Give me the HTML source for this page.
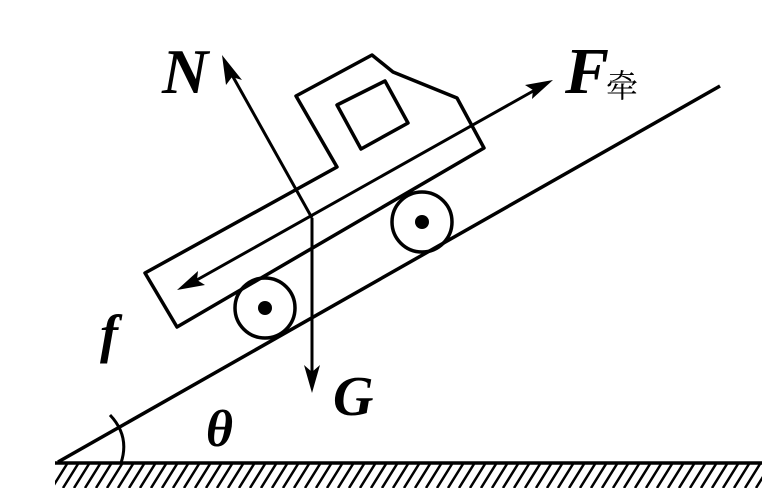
<!DOCTYPE html>
<html><head><meta charset="utf-8"><style>
html,body{margin:0;padding:0;background:#fff;}
svg{display:block}
text{font-family:"Liberation Serif",serif;font-weight:bold;font-style:italic;fill:#000}
</style></head><body>
<svg width="780" height="501" viewBox="0 0 780 501" xmlns="http://www.w3.org/2000/svg">
<defs>
<clipPath id="c"><rect x="55" y="464" width="707" height="24"/></clipPath>
</defs>
<g clip-path="url(#c)" stroke="#000" stroke-width="2.5">
<path d="M67 464L52 488M78 464L63 488M89 464L74 488M100 464L85 488M111 464L96 488M122 464L107 488M133 464L118 488M144 464L129 488M155 464L140 488M166 464L151 488M177 464L162 488M188 464L173 488M199 464L184 488M210 464L195 488M221 464L206 488M232 464L217 488M243 464L228 488M254 464L239 488M265 464L250 488M276 464L261 488M287 464L272 488M298 464L283 488M309 464L294 488M320 464L305 488M331 464L316 488M342 464L327 488M353 464L338 488M364 464L349 488M375 464L360 488M386 464L371 488M397 464L382 488M408 464L393 488M419 464L404 488M430 464L415 488M441 464L426 488M452 464L437 488M463 464L448 488M474 464L459 488M485 464L470 488M496 464L481 488M507 464L492 488M518 464L503 488M529 464L514 488M540 464L525 488M551 464L536 488M562 464L547 488M573 464L558 488M584 464L569 488M595 464L580 488M606 464L591 488M617 464L602 488M628 464L613 488M639 464L624 488M650 464L635 488M661 464L646 488M672 464L657 488M683 464L668 488M694 464L679 488M705 464L690 488M716 464L701 488M727 464L712 488M738 464L723 488M749 464L734 488M760 464L745 488M771 464L756 488"/>
</g>
<g stroke="#000" stroke-width="3.5" fill="none" stroke-linejoin="round">
<line x1="55" y1="463" x2="762" y2="463"/>
<line x1="58" y1="462" x2="720" y2="86"/>
<path d="M110 415 Q130 436 121 463" stroke-width="3"/>
<polygon points="145,273 337,167 296,96 372,55 393,72 457,98 484,148 177,327"/>
<polygon points="337,105 385,81 408,123 361,149"/>
<circle cx="422" cy="222" r="30"/>
<circle cx="265" cy="308" r="30"/>
<line x1="312" y1="218" x2="312" y2="375" stroke-width="3"/>
<line x1="312" y1="218" x2="232" y2="75" stroke-width="3"/>
<line x1="195" y1="281" x2="535" y2="90" stroke-width="3"/>
</g>
<circle cx="422" cy="222" r="7"/>
<circle cx="265" cy="308" r="7"/>
<polygon points="312,393 304,365 312,372 320,365"/>
<polygon points="222,55 226,85 232,77 242,80"/>
<polygon points="553,80 525,85 533,90 532,99"/>
<polygon points="177,290 205,285 197,280 198,271"/>
<text x="162" y="93" font-size="64">N</text>
<text x="565" y="93" font-size="66">F</text>
<text x="606" y="97" font-size="32" style="font-style:normal;font-weight:normal;font-family:'Liberation Serif','Noto Serif CJK SC',serif">牵</text>
<text x="100" y="352" font-size="54">f</text>
<text x="333" y="415" font-size="56">G</text>
<text x="206" y="446" font-size="52">θ</text>
</svg>
</body></html>
